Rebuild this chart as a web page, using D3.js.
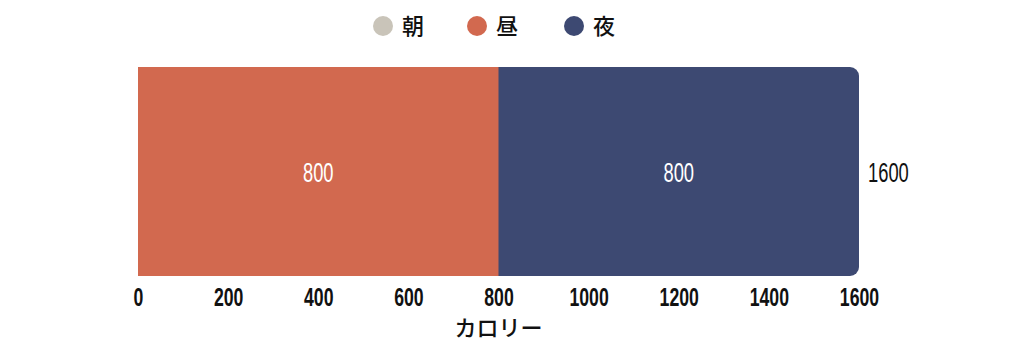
<!DOCTYPE html>
<html>
<head>
<meta charset="utf-8">
<script src="https://cdn.jsdelivr.net/npm/d3@7"></script>
<style>
	body { margin: 0; background: #fff; }
	.num { font-family: "Liberation Sans", Arial, sans-serif; }
	.jp { font-family: "Noto Sans CJK JP", sans-serif; }
</style>
</head>
<body>
<svg id="chart" width="1024" height="341"></svg>
<script>
const categories = ["朝", "昼", "夜"];
const values = [0, 800, 800];
const colors = ["#c9c4b9", "#d2694f", "#3d4972"];
const tickValues = [0, 200, 400, 600, 800, 1000, 1200, 1400, 1600];
const axisTitle = "カロリー";

const width = 1024;
const height = 341;
const margin = { left: 138, right: 165, top: 67, bottom: 65 };
const narrow = "scale(0.68, 1)";

const svg = d3.select("#chart");

const total = d3.sum(values);
const xScale = d3.scaleLinear().domain([0, 1600]).range([margin.left, width - margin.right]);
const yScale = d3.scaleBand().domain(["all"]).range([margin.top, height - margin.bottom]);

// stacked segments
let acc = 0;
const segs = values.map((v, i) => {
	const s = { start: acc, end: acc + v, value: v, color: colors[i], name: categories[i] };
	acc += v;
	return s;
});

// clip: rounded right end only
svg.append("clipPath")
		.attr("id", "barClip")
		.append("rect")
		.attr("x", xScale(0) - 20)
		.attr("y", yScale("all"))
		.attr("width", xScale(total) - xScale(0) + 20)
		.attr("height", yScale.bandwidth())
		.attr("rx", 9)
		.attr("ry", 9);

const barG = svg.append("g").attr("clip-path", "url(#barClip)");

barG.selectAll("rect")
		.data(segs.filter(d => d.value > 0))
		.enter()
		.append("rect")
		.attr("x", d => xScale(d.start))
		.attr("y", yScale("all"))
		.attr("width", d => xScale(d.end) - xScale(d.start) + 0.5)
		.attr("height", yScale.bandwidth())
		.attr("fill", d => d.color);

// value labels
const midY = yScale("all") + yScale.bandwidth() / 2 + 1;
svg.selectAll(".valLabel")
		.data(segs.filter(d => d.value > 0))
		.enter()
		.append("g")
		.attr("class", "valLabel")
		.attr("transform", d => `translate(${(xScale(d.start) + xScale(d.end)) / 2}, ${midY})`)
		.append("text")
		.attr("class", "num")
		.attr("transform", narrow)
		.attr("dy", "0.36em")
		.attr("text-anchor", "middle")
		.attr("fill", "#ffffff")
		.style("font-size", "27px")
		.text(d => d.value);

// total label
svg.append("g")
		.attr("transform", `translate(${xScale(total) + 9}, ${midY})`)
		.append("text")
		.attr("class", "num")
		.attr("transform", narrow)
		.attr("dy", "0.36em")
		.attr("fill", "#111")
		.style("font-size", "27px")
		.text(total);

// x axis
const xAxis = svg.append("g")
		.attr("transform", `translate(0, ${height - margin.bottom})`)
		.call(d3.axisBottom(xScale).tickValues(tickValues).tickFormat(d3.format("d")).tickSize(0).tickPadding(12));
xAxis.select(".domain").remove();
xAxis.selectAll("text")
		.attr("class", "num")
		.attr("transform", narrow)
		.attr("fill", "#111")
		.style("font-size", "26px")
		.style("font-weight", "bold");

// axis title
svg.append("text")
		.attr("class", "jp")
		.attr("x", xScale(800))
		.attr("y", 336)
		.attr("text-anchor", "middle")
		.attr("fill", "#111")
		.style("font-size", "22px")
		.style("font-weight", 500)
		.text(axisTitle);

// legend
const legendX = [383, 477, 574];
const legend = svg.selectAll(".legend")
		.data(categories)
		.enter()
		.append("g")
		.attr("class", "legend")
		.attr("transform", (d, i) => `translate(${legendX[i]}, 26)`);

legend.append("circle")
		.attr("r", 10)
		.attr("fill", (d, i) => colors[i]);

legend.append("text")
		.attr("class", "jp")
		.attr("x", 19)
		.attr("dy", "0.36em")
		.attr("fill", "#111")
		.style("font-size", "22px")
		.style("font-weight", 500)
		.text(d => d);
</script>
</body>
</html>
